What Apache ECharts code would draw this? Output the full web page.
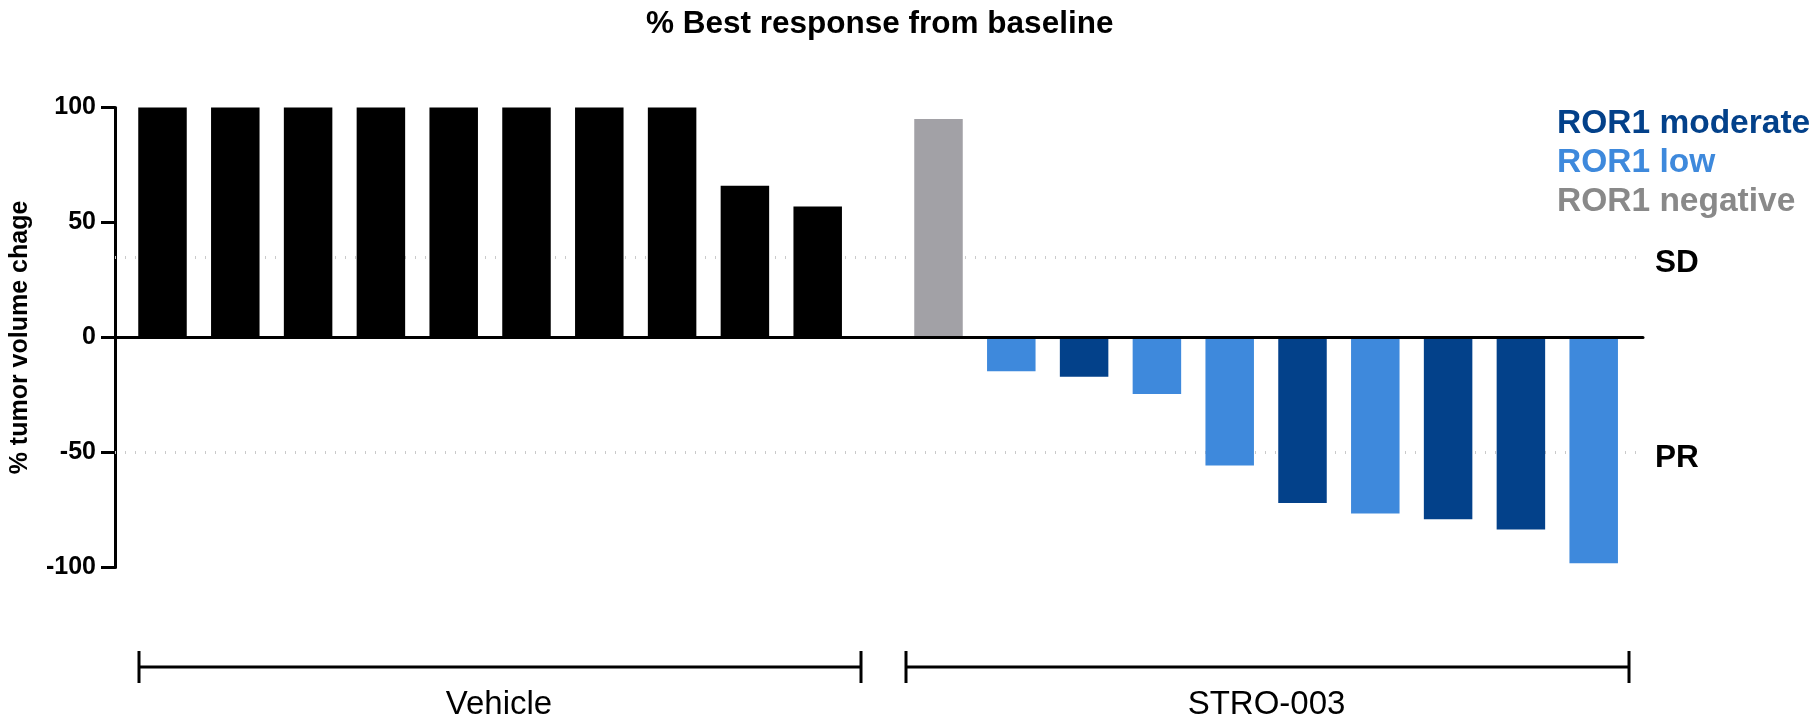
<!DOCTYPE html>
<html>
<head>
<meta charset="utf-8">
<script src="https://cdn.jsdelivr.net/npm/echarts@6/dist/echarts.min.js"></script>
<style>
  html, body { margin: 0; padding: 0; background: #ffffff; }
  #chart { width: 1819px; height: 721px; }
</style>
</head>
<body>
<div id="chart"></div>
<script>
// Waterfall of best tumour volume response, per animal
const vehicleIds = ['V1', 'V2', 'V3', 'V4', 'V5', 'V6', 'V7', 'V8', 'V9', 'V10'];
const vehicleValues = [100, 100, 100, 100, 100, 100, 100, 100, 66, 57];

const stroIds = ['S1', 'S2', 'S3', 'S4', 'S5', 'S6', 'S7', 'S8', 'S9', 'S10'];
const stroValues = [95, -14.7, -17.1, -24.6, -55.7, -72, -76.5, -79, -83.5, -98.1];
const stroLevels = ['negative', 'low', 'moderate', 'low', 'low', 'moderate', 'low', 'moderate', 'moderate', 'low'];

const levelKeys = ['moderate', 'low', 'negative'];
const levelNames = ['ROR1 moderate', 'ROR1 low', 'ROR1 negative'];

const groupNames = ['Vehicle', 'STRO-003'];

const thresholdLabels = ['SD', 'PR'];
const thresholdValues = [35, -50];

const yMin = -100, yMax = 100, yStep = 50;

// styling
const FONT = '"Liberation Sans", Arial, Helvetica, sans-serif';
const barColors = { moderate: '#03418a', low: '#3e89dc', negative: '#a2a1a6' };
const legendColors = { moderate: '#03418a', low: '#3e89dc', negative: '#898989' };

// layout (px)
const plotTop = 107.5, plotBottom = 721 - 567.5;
const axisLeft = 115, axisRight = 1643;
const band = 72.8;
const vehLeft = 126.1, stroLeft = 902.1;
const bracketY = 667, capHalf = 16;
const bracketSpans = [[139, 861], [906, 1629]];

const chart = echarts.init(document.getElementById('chart'), null, { renderer: 'canvas' });

const hiddenY = (gi) => ({ type: 'value', gridIndex: gi, min: yMin, max: yMax, interval: yStep, show: false });

const stroSeries = levelKeys.map((key, k) => ({
  name: levelNames[k],
  type: 'bar',
  xAxisIndex: 2,
  yAxisIndex: 2,
  stack: 'stro',
  barWidth: 48.5,
  z: 3,
  itemStyle: { color: barColors[key] },
  data: stroValues.map((v, i) => (stroLevels[i] === key ? v : '-'))
}));

// brackets under the two treatment groups
const graphics = [];
bracketSpans.forEach((span, g) => {
  const [x0, x1] = span;
  graphics.push(
    { type: 'line', shape: { x1: x0, y1: bracketY, x2: x1, y2: bracketY }, style: { stroke: '#000', lineWidth: 3 } },
    { type: 'line', shape: { x1: x0, y1: bracketY - capHalf, x2: x0, y2: bracketY + capHalf }, style: { stroke: '#000', lineWidth: 3 } },
    { type: 'line', shape: { x1: x1, y1: bracketY - capHalf, x2: x1, y2: bracketY + capHalf }, style: { stroke: '#000', lineWidth: 3 } },
    {
      type: 'text', x: (x0 + x1) / 2 - 1, y: 705,
      style: { text: groupNames[g], font: '33px ' + FONT, fill: '#000', textAlign: 'center', textVerticalAlign: 'middle' }
    }
  );
});

chart.setOption({
  animation: false,
  backgroundColor: '#ffffff',
  title: {
    text: '% Best response from baseline',
    left: 646,
    top: 8,
    padding: 0,
    textStyle: { fontFamily: FONT, fontSize: 31.5, fontWeight: 'bold', color: '#000' }
  },
  legend: {
    orient: 'vertical',
    left: 1552,
    top: 104,
    padding: 0,
    itemGap: 0,
    itemWidth: 0,
    itemHeight: 0,
    icon: 'none',
    selectedMode: false,
    textStyle: { fontFamily: FONT, fontSize: 33.5, fontWeight: 'bold', lineHeight: 39 },
    data: levelNames.map((n, k) => ({ name: n, textStyle: { color: legendColors[levelKeys[k]] } }))
  },
  grid: [
    { left: axisLeft, width: axisRight - axisLeft, top: plotTop, bottom: plotBottom },
    { left: vehLeft, width: band * vehicleIds.length, top: plotTop, bottom: plotBottom },
    { left: stroLeft, width: band * stroIds.length, top: plotTop, bottom: plotBottom }
  ],
  xAxis: [
    {
      type: 'value', gridIndex: 0, min: 0, max: 1, z: 10,
      axisLine: { show: true, onZero: true, lineStyle: { color: '#000', width: 3 } },
      axisTick: { show: false }, axisLabel: { show: false }, splitLine: { show: false }
    },
    { type: 'category', gridIndex: 1, data: vehicleIds, show: false },
    { type: 'category', gridIndex: 2, data: stroIds, show: false }
  ],
  yAxis: [
    {
      type: 'value', gridIndex: 0, min: yMin, max: yMax, interval: yStep,
      name: '% tumor volume chage',
      nameLocation: 'middle',
      nameGap: 82,
      nameTextStyle: { fontFamily: FONT, fontSize: 25, fontWeight: 'bold', color: '#000' },
      axisLine: { show: true, lineStyle: { color: '#000', width: 3 } },
      axisTick: { show: true, length: 14, lineStyle: { color: '#000', width: 3 } },
      axisLabel: { margin: 19, fontFamily: FONT, fontSize: 25, fontWeight: 'bold', color: '#000' },
      splitLine: { show: false }
    },
    hiddenY(1),
    hiddenY(2)
  ],
  graphic: graphics,
  series: [
    {
      name: 'thresholds',
      type: 'line',
      xAxisIndex: 0,
      yAxisIndex: 0,
      data: [],
      z: 1,
      silent: true,
      markLine: {
        silent: true,
        symbol: 'none',
        z: 1,
        lineStyle: { color: '#cacaca', width: 3, type: [1, 9] },
        label: {
          show: true, position: 'end', distance: 12, offset: [0, 6],
          formatter: '{b}',
          fontFamily: FONT, fontSize: 31.5, fontWeight: 'bold', color: '#000'
        },
        data: thresholdValues.map((v, i) => ({ yAxis: v, name: thresholdLabels[i] }))
      }
    },
    {
      name: 'Vehicle',
      type: 'bar',
      xAxisIndex: 1,
      yAxisIndex: 1,
      barWidth: 48.5,
      z: 3,
      itemStyle: { color: '#000000' },
      data: vehicleValues
    },
    ...stroSeries
  ]
});
</script>
</body>
</html>
